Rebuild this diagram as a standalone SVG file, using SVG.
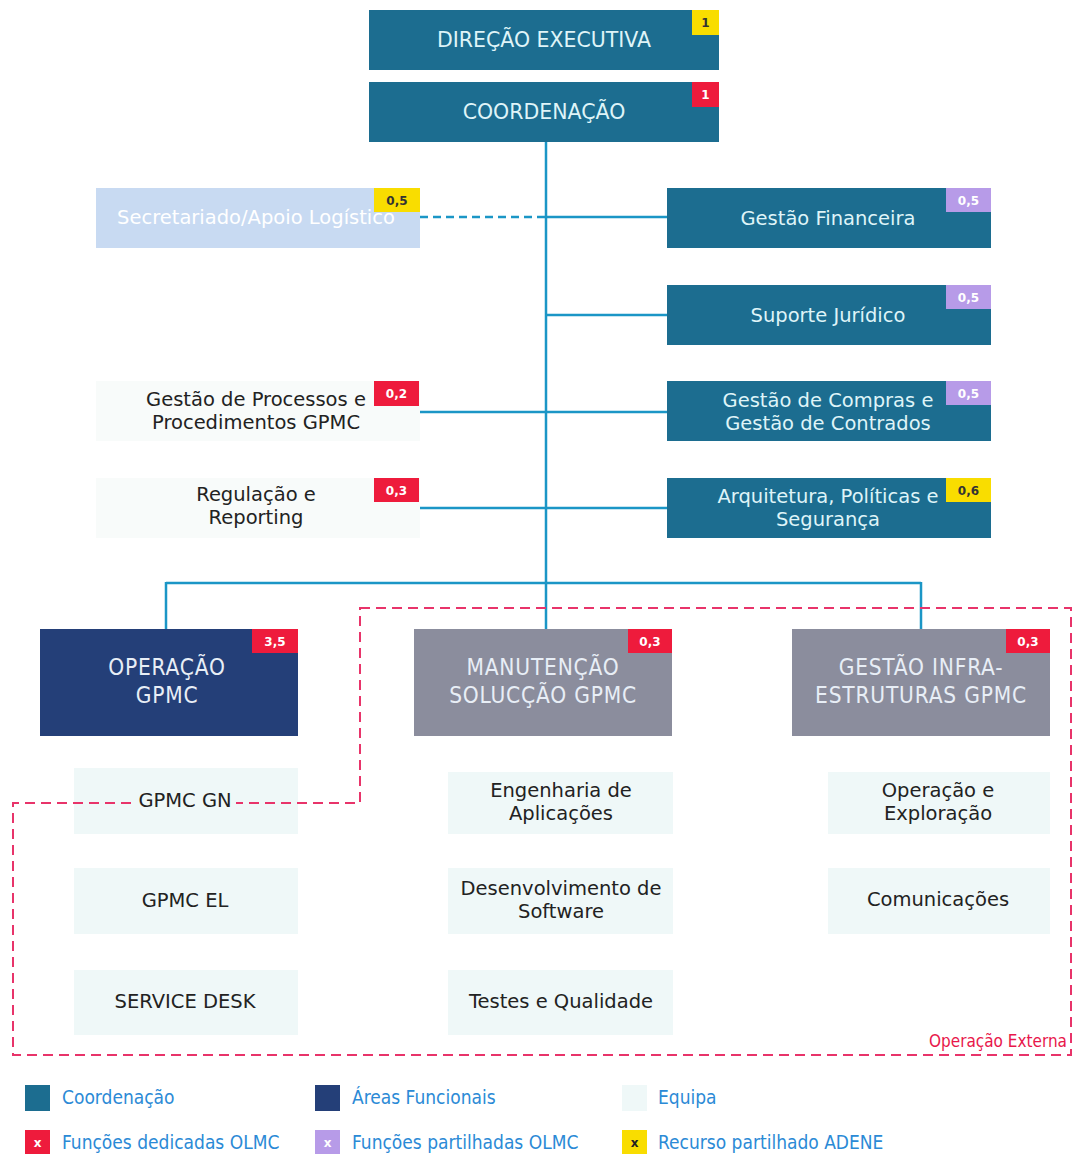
<svg xmlns="http://www.w3.org/2000/svg" width="1073" height="1156" viewBox="0 0 1073 1156">
<style>
.coord{fill:#1c6d90}
.area{fill:#243f78}
.gray{fill:#8b8d9d}
.team{fill:#eff8f8}
.faint{fill:#f8fbfa}
.sec{fill:#c8daf2}
.t{font-family:"DejaVu Sans",Verdana,sans-serif;font-size:19.5px;text-anchor:middle}
.cap{font-size:20.5px}
.tl{fill:#dff4f8}
.td{fill:#222}
.tw{fill:#ffffff}
.big{font-family:"DejaVu Sans Condensed","DejaVu Sans",sans-serif;font-size:22.5px;letter-spacing:0.8px;text-anchor:middle;fill:#e8eef6}
.b{font-family:"DejaVu Sans",Verdana,sans-serif;font-size:12px;font-weight:bold;text-anchor:middle}
.red{fill:#ee1b3c}
.yel{fill:#f9dd00}
.lav{fill:#b79be8}
.line{stroke:#1b96c6;stroke-width:2.5;fill:none}
.leg{font-family:"DejaVu Sans Condensed","DejaVu Sans",sans-serif;font-size:19px;fill:#2b8ad6}
</style>

<g id="connectors">
<path class="line" d="M546,142 V583"/>
<path class="line" d="M420,217 H546" stroke-dasharray="8,5"/>
<path class="line" d="M546,217 H667"/>
<path class="line" d="M546,315 H667"/>
<path class="line" d="M420,412 H667"/>
<path class="line" d="M420,508 H667"/>
<path class="line" d="M166,583 H921 M166,582 V629 M546,583 V629 M921,582 V629"/>
</g>

<g id="direcao">
<rect class="coord" x="369" y="10" width="350" height="60"/>
<rect class="yel" x="692" y="10" width="27" height="25"/>
<text class="b" x="705.5" y="27" fill="#333">1</text>
<text class="t cap tl" x="544" y="47">DIREÇÃO EXECUTIVA</text>
</g>

<g id="coordenacao">
<rect class="coord" x="369" y="82" width="350" height="60"/>
<rect class="red" x="692" y="82" width="27" height="25"/>
<text class="b tw" x="705.5" y="99">1</text>
<text class="t cap tl" x="544" y="119">COORDENAÇÃO</text>
</g>

<g id="secretariado">
<rect class="sec" x="96" y="188" width="324" height="60"/>
<rect class="yel" x="374" y="188" width="46" height="24"/>
<text class="b" x="397" y="205" fill="#333">0,5</text>
<text class="t tw" x="256" y="224">Secretariado/Apoio Logístico</text>
</g>

<g id="gestao-financeira">
<rect class="coord" x="667" y="188" width="324" height="60"/>
<rect class="lav" x="946" y="188" width="45" height="24"/>
<text class="b tw" x="968.5" y="205">0,5</text>
<text class="t tl" x="828" y="225">Gestão Financeira</text>
</g>

<g id="suporte-juridico">
<rect class="coord" x="667" y="285" width="324" height="60"/>
<rect class="lav" x="946" y="285" width="45" height="24"/>
<text class="b tw" x="968.5" y="302">0,5</text>
<text class="t tl" x="828" y="322">Suporte Jurídico</text>
</g>

<g id="gestao-compras">
<rect class="coord" x="667" y="381" width="324" height="60"/>
<rect class="lav" x="946" y="381" width="45" height="24"/>
<text class="b tw" x="968.5" y="398">0,5</text>
<text class="t tl" x="828" y="407">Gestão de Compras e</text>
<text class="t tl" x="828" y="430">Gestão de Contrados</text>
</g>

<g id="arquitetura">
<rect class="coord" x="667" y="478" width="324" height="60"/>
<rect class="yel" x="946" y="478" width="45" height="24"/>
<text class="b" x="968.5" y="495" fill="#333">0,6</text>
<text class="t tl" x="828" y="503">Arquitetura, Políticas e</text>
<text class="t tl" x="828" y="526">Segurança</text>
</g>

<g id="gestao-processos">
<rect class="faint" x="96" y="381" width="324" height="60"/>
<rect class="red" x="374" y="381" width="45" height="25"/>
<text class="b tw" x="396.5" y="398">0,2</text>
<text class="t td" x="256" y="406">Gestão de Processos e</text>
<text class="t td" x="256" y="429">Procedimentos GPMC</text>
</g>

<g id="regulacao">
<rect class="faint" x="96" y="478" width="324" height="60"/>
<rect class="red" x="374" y="478" width="45" height="24"/>
<text class="b tw" x="396.5" y="495">0,3</text>
<text class="t td" x="256" y="501">Regulação e</text>
<text class="t td" x="256" y="524">Reporting</text>
</g>

<g id="operacao-gpmc">
<rect class="area" x="40" y="629" width="258" height="107"/>
<rect class="red" x="252" y="629" width="46" height="24"/>
<text class="b tw" x="275" y="646">3,5</text>
<text class="big" x="167" y="675">OPERAÇÃO</text>
<text class="big" x="167" y="703">GPMC</text>
</g>

<g id="manutencao">
<rect class="gray" x="414" y="629" width="258" height="107"/>
<rect class="red" x="628" y="629" width="44" height="24"/>
<text class="b tw" x="650" y="646">0,3</text>
<text class="big" x="543" y="675">MANUTENÇÃO</text>
<text class="big" x="543" y="703">SOLUCÇÃO GPMC</text>
</g>

<g id="gestao-infra">
<rect class="gray" x="792" y="629" width="258" height="107"/>
<rect class="red" x="1006" y="629" width="44" height="24"/>
<text class="b tw" x="1028" y="646">0,3</text>
<text class="big" x="921" y="675">GESTÃO INFRA-</text>
<text class="big" x="921" y="703">ESTRUTURAS GPMC</text>
</g>

<g id="team-boxes">
<rect class="team" x="74" y="768" width="224" height="66"/>
<rect class="team" x="74" y="868" width="224" height="66"/>
<rect class="team" x="74" y="970" width="224" height="65"/>
<rect class="team" x="448" y="772" width="225" height="62"/>
<rect class="team" x="448" y="868" width="225" height="66"/>
<rect class="team" x="448" y="970" width="225" height="65"/>
<rect class="team" x="828" y="772" width="222" height="62"/>
<rect class="team" x="828" y="868" width="222" height="66"/>
</g>

<g id="operacao-externa">
<path d="M360,608 H1071 V1055 H13 V803 H360 Z" fill="none" stroke="#e8346a" stroke-width="2" stroke-dasharray="10,6"/>
<text x="1067" y="1047" font-family="DejaVu Sans Condensed,DejaVu Sans,sans-serif" font-size="17" fill="#e8174b" text-anchor="end">Operação Externa</text>
</g>

<g id="gpmc-gn">
<rect x="132" y="792" width="104" height="22" fill="#eff8f8"/>
<text class="t td" x="185" y="807">GPMC GN</text>
</g>
<g id="gpmc-el">
<text class="t td" x="185" y="907">GPMC EL</text>
</g>
<g id="service-desk">
<text class="t td" x="185" y="1008">SERVICE DESK</text>
</g>
<g id="engenharia">
<text class="t td" x="561" y="797">Engenharia de</text>
<text class="t td" x="561" y="820">Aplicações</text>
</g>
<g id="desenvolvimento">
<text class="t td" x="561" y="895">Desenvolvimento de</text>
<text class="t td" x="561" y="918">Software</text>
</g>
<g id="testes">
<text class="t td" x="561" y="1008">Testes e Qualidade</text>
</g>
<g id="operacao-exploracao">
<text class="t td" x="938" y="797">Operação e</text>
<text class="t td" x="938" y="820">Exploração</text>
</g>
<g id="comunicacoes">
<text class="t td" x="938" y="906">Comunicações</text>
</g>

<g id="legend">
<rect class="coord" x="25" y="1085" width="25" height="26"/>
<text class="leg" x="62" y="1104">Coordenação</text>
<rect class="area" x="315" y="1085" width="25" height="26"/>
<text class="leg" x="352" y="1104">Áreas Funcionais</text>
<rect class="team" x="622" y="1085" width="25" height="26"/>
<text class="leg" x="658" y="1104">Equipa</text>
<rect class="red" x="25" y="1130" width="25" height="24"/>
<text class="b tw" x="37.5" y="1147">x</text>
<text class="leg" x="62" y="1149">Funções dedicadas OLMC</text>
<rect class="lav" x="315" y="1130" width="25" height="24"/>
<text class="b tw" x="327.5" y="1147">x</text>
<text class="leg" x="352" y="1149">Funções partilhadas OLMC</text>
<rect class="yel" x="622" y="1130" width="25" height="24"/>
<text class="b" x="634.5" y="1147" fill="#222">x</text>
<text class="leg" x="658" y="1149">Recurso partilhado ADENE</text>
</g>
</svg>
